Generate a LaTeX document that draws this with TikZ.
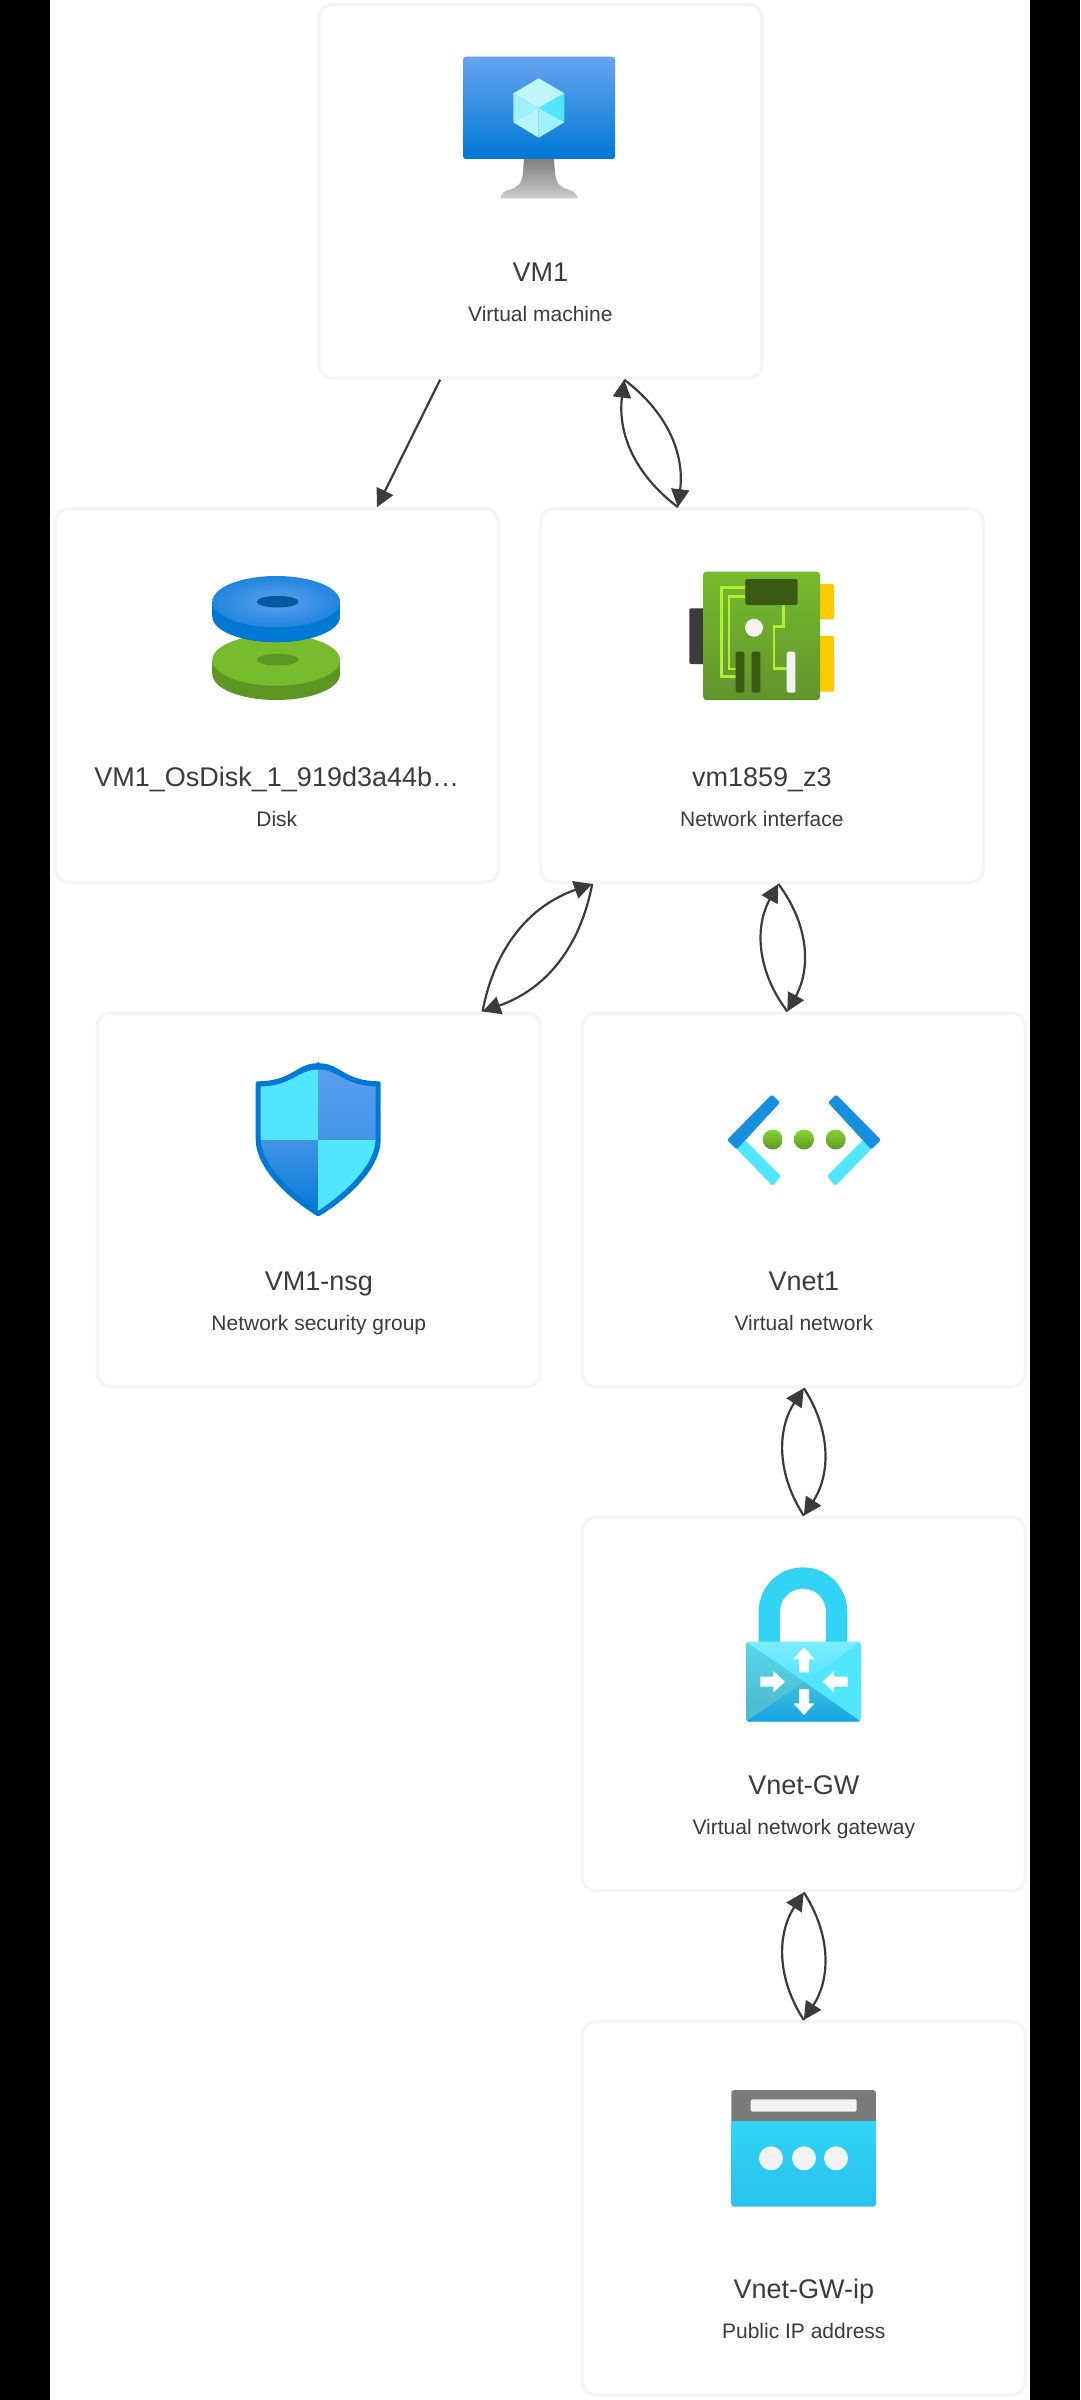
\documentclass[tikz,border=0pt]{standalone}
\usepackage{fontspec}
\setmainfont{Liberation Sans}
\usetikzlibrary{shapes,arrows.meta}
\definecolor{cardline}{HTML}{F5F5F5}
\definecolor{inktext}{HTML}{3B3B3B}
\definecolor{azblue}{HTML}{0078D4}
\definecolor{azsky}{HTML}{5EA0EF}
\definecolor{azcyan}{HTML}{50E6FF}
\definecolor{azlock}{HTML}{32D4F5}
\definecolor{azgreen}{HTML}{76BC2D}
\definecolor{azmoss}{HTML}{5E9624}
\definecolor{azdark}{HTML}{3A5A13}
\definecolor{azwhite}{HTML}{F2F2F2}
\definecolor{azgold}{HTML}{FFCA00}
\definecolor{aztrace}{HTML}{B4EC36}
\definecolor{azchevron}{HTML}{1490DF}
\definecolor{azlime}{HTML}{86D633}
\tikzstyle{card} = [rectangle, draw=cardline, fill=white, line width=3.4pt,
    minimum width=443pt, minimum height=373.3pt, rounded corners=13pt]
\tikzstyle{cardname} = [anchor=base, text=inktext, node distance=90.5pt,
    font=\fontsize{27}{30}\selectfont]
\tikzstyle{cardtype} = [anchor=base, text=inktext, node distance=130.5pt,
    font=\fontsize{21}{25}\selectfont]
\tikzstyle{line} = [draw, inktext, line width=2.2pt,
    -{Triangle[length=18pt,width=18pt]}]

\begin{document}
\begin{tikzpicture}[x=1pt, y=-1pt, node distance=504.25pt]
    \useasboundingbox (0,0) rectangle (1080,2400);
    \fill [white] (0,0) rectangle (1080,2400);
    \fill [black] (0,0) rectangle (50,2400);
    \fill [black] (1030,0) rectangle (1080,2400);
    % Place nodes
    \node [card] (vm1) at (540.3,191.3) {};
    \node [card, below of=vm1, xshift=-263.5pt] (disk) {};
    \node [card, below of=vm1, xshift=221.5pt] (nic) {};
    \node [card, below of=disk, xshift=42pt] (nsg) {};
    \node [card, below of=nic, xshift=42pt] (vnet) {};
    \node [card, below of=vnet] (gw) {};
    \node [card, below of=gw] (pip) {};
    % Place labels
    \node [below of=vm1, cardname] (vm1name) {VM1};
    \node [below of=vm1, cardtype] (vm1type) {Virtual machine};
    \node [below of=disk, cardname] (diskname) {VM1\_OsDisk\_1\_919d3a44b…};
    \node [below of=disk, cardtype] (disktype) {Disk};
    \node [below of=nic, cardname] (nicname) {vm1859\_z3};
    \node [below of=nic, cardtype] (nictype) {Network interface};
    \node [below of=nsg, cardname] (nsgname) {VM1-nsg};
    \node [below of=nsg, cardtype] (nsgtype) {Network security group};
    \node [below of=vnet, cardname] (vnetname) {Vnet1};
    \node [below of=vnet, cardtype] (vnettype) {Virtual network};
    \node [below of=gw, cardname] (gwname) {Vnet-GW};
    \node [below of=gw, cardtype] (gwtype) {Virtual network gateway};
    \node [below of=pip, cardname] (pipname) {Vnet-GW-ip};
    \node [below of=pip, cardtype] (piptype) {Public IP address};
    % Draw edges
    \path [line] (vm1.-118.2) -- (disk.62.9);
    \path [line] (vm1.-66.25) to [bend left=30] (nic.114.6);
    \path [line] (nic.114.6) to [bend left=30] (vm1.-66.25);
    \path [line] (nic.228.8) to [bend left=30] (nsg.49);
    \path [line] (nsg.49) to [bend left=30] (nic.228.8);
    \path [line] (nic.-85.5) to [bend left=33] (vnet.95.3);
    \path [line] (vnet.95.3) to [bend left=33] (nic.-85.5);
    \path [line] (vnet.south) to [bend left=33] (gw.north);
    \path [line] (gw.north) to [bend left=33] (vnet.south);
    \path [line] (gw.south) to [bend left=33] (pip.north);
    \path [line] (pip.north) to [bend left=33] (gw.south);
    % Virtual machine icon
    \shade [top color=azsky!95!white, bottom color=azblue, rounded corners=2.5pt]
        (463.3,56.7) rectangle (615,159);
    \fill [azcyan!35!white] (538.7,78.3) -- (564.3,93.3) -- (538.7,108) -- (513.3,93.3) -- cycle;
    \fill [azcyan!55!white] (513.3,93.3) -- (538.7,108) -- (538.7,108) -- (513.3,122.3) -- cycle;
    \fill [azcyan] (564.3,93.3) -- (538.7,108) -- (564.3,122.3) -- cycle;
    \fill [azcyan!40!white] (513.3,122.3) -- (538.7,108) -- (538.7,137.7) -- cycle;
    \fill [azcyan!55!white] (564.3,122.3) -- (538.7,108) -- (538.7,137.7) -- cycle;
    \shade [top color=black!50, bottom color=black!20]
        (524,159) -- (554,159) -- (555,172) .. controls (556,184) and (560,187) .. (568,189.5)
        .. controls (574,191) and (577,194) .. (577.5,198.5) -- (500.5,198.5)
        .. controls (501,194) and (504,191) .. (510,189.5)
        .. controls (518,187) and (522,184) .. (523,172) -- cycle;
    % Disk icon
    \fill [azmoss] (276.2,674.3) ellipse [x radius=63.8, y radius=25.7];
    \fill [azmoss] (212.4,660) rectangle (340,674.3);
    \fill [azgreen] (276.2,660) ellipse [x radius=63.8, y radius=25.7];
    \fill [azmoss] (277.7,659.7) ellipse [x radius=21, y radius=5.8];
    \fill [azblue] (276.2,616.6) ellipse [x radius=63.8, y radius=25.7];
    \fill [azblue] (212.4,601.7) rectangle (340,616.6);
    \shade [inner color=azsky, outer color=azblue!65!azsky] (276.2,601.7) ellipse [x radius=63.8, y radius=25.7];
    \fill [black!25!azblue] (277.7,601.7) ellipse [x radius=21, y radius=5.8];
    % Network interface icon
    \fill [inktext, rounded corners=2pt] (689.3,608.3) rectangle (706,664);
    \fill [azgold, rounded corners=2pt] (815,584) rectangle (834,619.3);
    \fill [azgold, rounded corners=2pt] (815,636) rectangle (834,691.7);
    \shade [top color=azgreen, bottom color=azmoss!90!gray, rounded corners=3pt]
        (703.3,571.7) rectangle (820,700);
    \draw [line width=2.6pt, aztrace] (745.3,587.7) -- (721.7,587.7) -- (721.7,676.7) -- (736.7,676.7);
    \draw [line width=2.6pt, aztrace] (745.3,596.7) -- (729,596.7) -- (729,669) -- (736.7,669);
    \draw [line width=2.6pt, aztrace] (783.3,605) -- (783.3,626.7) -- (774,626.7) -- (774,668.3) -- (786.7,668.3);
    \fill [azdark, rounded corners=1.5pt] (745.3,579) rectangle (797.7,605);
    \fill [azwhite] (754,627.7) circle (9);
    \fill [azdark, rounded corners=1.5pt] (735.7,651.7) rectangle (744.3,692.7);
    \fill [azdark, rounded corners=1.5pt] (751.7,651.7) rectangle (760.3,692.7);
    \fill [azwhite, rounded corners=1.5pt] (786.7,651.7) rectangle (795.3,692.7);
    % Network security group icon
    \fill [azblue, rounded corners=1.5pt] (318.3,1063.3) .. controls (297,1063.3) and (292,1081) .. (257,1081.3)
        -- (255.7,1081.3) -- (255.7,1138) .. controls (255.7,1168) and (288,1198) .. (318.3,1216.7)
        .. controls (348.6,1198) and (380.7,1168) .. (380.7,1138) -- (380.7,1081.3) -- (379.6,1081.3)
        .. controls (344.6,1081) and (339.6,1063.3) .. (318.3,1063.3) -- cycle;
    \begin{scope}
        \clip (318.3,1069.5) .. controls (298,1069.5) and (292,1086) .. (260.7,1086.5)
            -- (260.7,1138) .. controls (260.7,1164) and (290,1192) .. (318.3,1210.5)
            .. controls (346.6,1192) and (375.7,1164) .. (375.7,1138) -- (375.7,1086.5)
            .. controls (344.6,1086) and (338.6,1069.5) .. (318.3,1069.5) -- cycle;
        \fill [azcyan] (255,1060) rectangle (318.3,1140);
        \shade [top color=azsky, bottom color=azsky!70!azblue] (318.3,1060) rectangle (385,1140);
        \shade [top color=azsky!70!azblue, bottom color=azblue] (255,1140) rectangle (318.3,1217);
        \fill [azcyan] (318.3,1140) rectangle (385,1217);
    \end{scope}
    % Virtual network icon
    \fill [azcyan, rounded corners=1.5pt] (733,1145) -- (745,1140) -- (781,1176) -- (772.7,1186) -- cycle;
    \fill [azcyan, rounded corners=1.5pt] (875,1145) -- (863,1140) -- (827,1176) -- (835.3,1186) -- cycle;
    \fill [azchevron, rounded corners=1.5pt] (727,1140) -- (771.7,1094.6) -- (780,1102.5) -- (736.7,1149.5) -- cycle;
    \fill [azchevron, rounded corners=1.5pt] (881,1140) -- (836.3,1094.6) -- (828,1102.5) -- (871.3,1149.5) -- cycle;
    \shade [top color=azlime, bottom color=azmoss] (772.7,1139.5) circle (10);
    \shade [top color=azlime, bottom color=azmoss] (804,1139.5) circle (10);
    \shade [top color=azlime, bottom color=azmoss] (835.7,1139.5) circle (10);
    % Virtual network gateway icon
    \draw [azlock, line width=21.3pt] (769.3,1645) -- (769.3,1612) .. controls (769.3,1593) and (784,1578) .. (803,1578)
        .. controls (822,1578) and (836.7,1593) .. (836.7,1612) -- (836.7,1645);
    \begin{scope}
        \clip [rounded corners=3pt] (746,1641.7) rectangle (861,1721.7);
        \fill [azcyan] (746,1641.7) rectangle (861,1721.7);
        \shade [top color=azcyan!75!white, bottom color=azcyan] (746,1641.7) -- (861,1641.7) -- (804,1681.7) -- cycle;
        \shade [top color=azcyan!85!gray, bottom color=azlock!65!gray] (746,1641.7) -- (804,1681.7) -- (746,1721.7) -- cycle;
        \shade [top color=azlock!80!gray, bottom color=azlock!45!azblue] (746,1721.7) -- (804,1681.7) -- (861,1721.7) -- cycle;
    \end{scope}
    \fill [white] (804,1647.3) -- (814.7,1659.3) -- (809,1659.3) -- (809,1672.3) -- (799,1672.3) -- (799,1659.3) -- (793.3,1659.3) -- cycle;
    \fill [white] (804,1715) -- (814.7,1703.3) -- (809,1703.3) -- (809,1689) -- (799,1689) -- (799,1703.3) -- (793.3,1703.3) -- cycle;
    \fill [white] (785,1681.7) -- (773.3,1671) -- (773.3,1676.7) -- (760.3,1676.7) -- (760.3,1686.7) -- (773.3,1686.7) -- (773.3,1692.4) -- cycle;
    \fill [white] (822.7,1681.7) -- (834,1671) -- (834,1676.7) -- (847.7,1676.7) -- (847.7,1686.7) -- (834,1686.7) -- (834,1692.4) -- cycle;
    % Public IP address icon
    \begin{scope}
        \clip [rounded corners=3pt] (731.3,2090) rectangle (876,2206.7);
        \shade [top color=azlock, middle color=azlock, bottom color=azlock!80!azblue] (731.3,2121) rectangle (876,2206.7);
        \fill [black!52] (731.3,2090) rectangle (876,2121);
    \end{scope}
    \fill [azwhite, rounded corners=1.5pt] (750.7,2099.3) rectangle (856.7,2111.7);
    \fill [azwhite] (771,2158.3) circle (12);
    \fill [azwhite] (804,2158.3) circle (12);
    \fill [azwhite] (836,2158.3) circle (12);
\end{tikzpicture}
\end{document}
